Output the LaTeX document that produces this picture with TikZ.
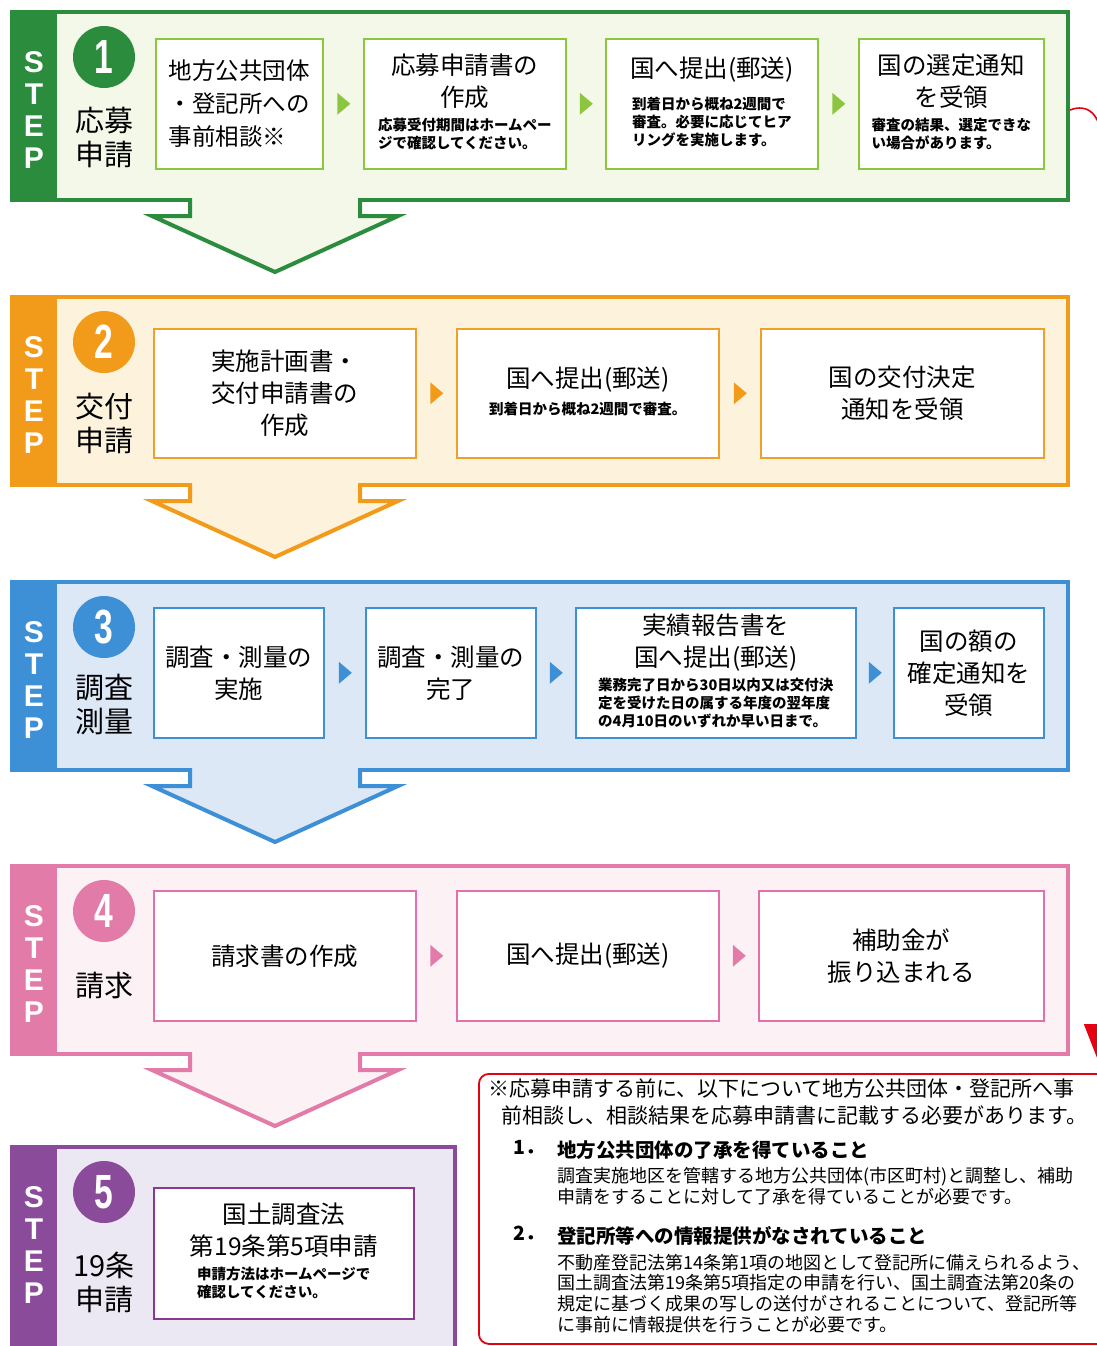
\documentclass[tikz,border=0pt]{standalone}
\usepackage{fontspec}
\setmainfont{Noto Sans CJK JP}
\newfontfamily\stepfamily{Liberation Sans}
\usepackage{graphicx}
\usepackage{tikz}
\usetikzlibrary{calc,arrows.meta}

\definecolor{gdark}{HTML}{2A8C3C}
\definecolor{glight}{HTML}{F3F8E8}
\definecolor{gline}{HTML}{8CC63F}
\definecolor{odark}{HTML}{F29B1A}
\definecolor{olight}{HTML}{FDF2DC}
\definecolor{oline}{HTML}{F0A02A}
\definecolor{bdark}{HTML}{3D8FD6}
\definecolor{blight}{HTML}{DCE8F6}
\definecolor{bline}{HTML}{3D8FD6}
\definecolor{pdark}{HTML}{E27BA8}
\definecolor{plight}{HTML}{FCF2F6}
\definecolor{pline}{HTML}{E46FAA}
\definecolor{vdark}{HTML}{8A4C9A}
\definecolor{vlight}{HTML}{ECE8F3}
\definecolor{vline}{HTML}{8A3A8E}
\definecolor{nred}{HTML}{E50012}

\newcommand{\boxfont}{\fontsize{24.5}{32}\selectfont}
\newcommand{\firstfont}{\fontsize{23.5}{33}\selectfont}
\newcommand{\notefont}{\bfseries\fontsize{14.5}{18}\selectfont}
\newcommand{\sidefont}{\fontsize{29}{34}\selectfont}
\newcommand{\numfont}{\stepfamily\bfseries\fontsize{48}{48}\selectfont}
\newcommand{\steplfont}{\stepfamily\bfseries\fontsize{30}{30}\selectfont}
\newcommand{\noteheadfont}{\fontsize{21}{27}\selectfont}
\newcommand{\itemfont}{\fontsize{18}{20.8}\selectfont}
\newcommand{\itemhead}{\bfseries\fontsize{19.5}{20.8}\selectfont}
\newcommand{\boxnote}[1]{{\notefont\begin{tabular}[t]{@{}l@{}}#1\end{tabular}}}

\begin{document}
\begin{tikzpicture}[x=1pt,y=-1pt,
	frame/.style={fill=#1light,draw=#1dark,line width=4pt},
	box/.style={draw=#1line,fill=white,line width=1.6pt,inner sep=0pt,align=center,font=\boxfont,anchor=north west},
	num/.style={circle,fill=#1dark,text=white,minimum size=62pt,inner sep=0pt,font=\numfont},
	side/.style={font=\sidefont,align=center,inner sep=0pt},
	stepl/.style={text=white,font=\steplfont,inner sep=0pt},
	downarrow/.style={draw=#1dark,line width=4pt,line join=miter},
	notebox/.style={draw=nred,fill=white,line width=1.8pt,rounded corners=10pt,anchor=north west,inner sep=0pt},
	notetext/.style={anchor=north west,inner sep=0pt,align=left},
	pics/nexttri/.style={code={\fill[#1] (-6,-11) -- (7,0) -- (-6,11) -- cycle;}},
]
	\fill[white] (0,0) rectangle (1097,1346);
	\useasboundingbox (0,0) rectangle (1097,1346);

	% step frames
	\foreach \t/\col/\b/\r [count=\k] in {12/g/200/1068,297/o/485/1068,582/b/770/1068,866/p/1054/1068,1147/v/1362/455}{
		\draw[frame=\col] (12,\t) rectangle (\r,\b);
		\fill[fill=\col dark] (10,\t-2) rectangle (57,\b+2);
		\foreach \ch [count=\i] in {S,T,E,P}
			\node[stepl] (step\k\ch) at (34,\t+18+32*\i) {\ch};
		\node[num=\col] (num\k) at (104,\t+45) {\scalebox{0.7}[1]{\k}};
	}

	% arrows down
	\foreach \b/\col in {200/g,485/o,770/b,1054/p}{
		\fill[fill=\col light] (190,\b-3) -- (190,\b+16) -- (152,\b+16) -- (275,\b+72) -- (398,\b+16) -- (360,\b+16) -- (360,\b-3) -- cycle;
		\draw[downarrow=\col] (190,\b-2) -- (190,\b+16) -- (152,\b+16) -- (275,\b+72) -- (398,\b+16) -- (360,\b+16) -- (360,\b-2);
	}

	\node[side] (lab1) at (104,137) {応募\\申請};
	\node[side] (lab2) at (104,423) {交付\\申請};
	\node[side] (lab3) at (104,705) {調査\\測量};
	\node[side] (lab4) at (104,985) {請求};
	\node[side] (lab5) at (104,1282) {19条\\申請};

	% step 1
	\node[box=g,minimum width=167pt,minimum height=130pt,align=left,font=\firstfont] (b11) at (155,38) {地方公共団体\\・登記所への\\事前相談※};
	\node[box=g,minimum width=202pt,minimum height=130pt] (b12) at (363,38) {応募申請書の\\作成\\[-8.5pt]\boxnote{応募受付期間はホームペー\\ジで確認してください。}};
	\node[box=g,minimum width=212pt,minimum height=130pt] (b13) at (605,38) {国へ提出(郵送)\\[0pt]\boxnote{到着日から概ね2週間で\\審査。必要に応じてヒア\\リングを実施します。}};
	\node[box=g,minimum width=185pt,minimum height=130pt] (b14) at (858,38) {国の選定通知\\を受領\\[-7.5pt]\boxnote{審査の結果、選定できな\\い場合があります。}};
	\pic at ($(b11.east)!.5!(b12.west)$) {nexttri=gline};
	\pic at ($(b12.east)!.5!(b13.west)$) {nexttri=gline};
	\pic at ($(b13.east)!.5!(b14.west)$) {nexttri=gline};

	% step 2
	\node[box=o,minimum width=262pt,minimum height=129pt] (b21) at (153,328) {実施計画書・\\交付申請書の\\作成};
	\node[box=o,minimum width=262pt,minimum height=129pt] (b22) at (456,328) {国へ提出(郵送)\\[-5pt]\boxnote{到着日から概ね2週間で審査。}};
	\node[box=o,minimum width=283pt,minimum height=129pt] (b23) at (760,328) {国の交付決定\\通知を受領};
	\pic at ($(b21.east)!.5!(b22.west)$) {nexttri=odark};
	\pic at ($(b22.east)!.5!(b23.west)$) {nexttri=odark};

	% step 3
	\node[box=b,minimum width=170pt,minimum height=130pt] (b31) at (153,607) {調査・測量の\\実施};
	\node[box=b,minimum width=170pt,minimum height=130pt] (b32) at (365,607) {調査・測量の\\完了};
	\node[box=b,minimum width=280pt,minimum height=130pt] (b33) at (575,607) {実績報告書を\\国へ提出(郵送)\\[-7.5pt]\boxnote{業務完了日から30日以内又は交付決\\定を受けた日の属する年度の翌年度\\の4月10日のいずれか早い日まで。}};
	\node[box=b,minimum width=150pt,minimum height=130pt] (b34) at (893,607) {国の額の\\確定通知を\\受領};
	\pic at ($(b31.east)!.5!(b32.west)$) {nexttri=bdark};
	\pic at ($(b32.east)!.5!(b33.west)$) {nexttri=bdark};
	\pic at ($(b33.east)!.5!(b34.west)$) {nexttri=bdark};

	% step 4
	\node[box=p,minimum width=262pt,minimum height=130pt] (b41) at (153,890) {請求書の作成};
	\node[box=p,minimum width=262pt,minimum height=130pt] (b42) at (456,890) {国へ提出(郵送)};
	\node[box=p,minimum width=285pt,minimum height=130pt] (b43) at (758,890) {補助金が\\振り込まれる};
	\pic at ($(b41.east)!.5!(b42.west)$) {nexttri=pdark};
	\pic at ($(b42.east)!.5!(b43.west)$) {nexttri=pdark};

	% step 5
	\node[box=v,minimum width=260pt,minimum height=131pt] (b51) at (153,1187) {国土調査法\\第19条第5項申請\\[-8pt]\boxnote{申請方法はホームページで\\確認してください。}};

	% note
	\node[notebox,minimum width=660pt,minimum height=270pt] (note) at (478,1073) {};
	\coordinate (r1) at (1070,110);
	\coordinate (tip) at (1101,1068);
	\draw[nred,line width=1.6pt,-{Triangle[width=34pt,length=44pt]}] (r1) .. controls (1088,103) and (1101,115) .. (1101,140) -- (tip);

	\node[notetext,font=\noteheadfont] (nhead) at (488,1079) {※応募申請する前に、以下について地方公共団体・登記所へ事\\\hspace*{13pt}前相談し、相談結果を応募申請書に記載する必要があります。};
	\node[notetext,font=\itemhead] (nnum1) at (513,1140) {1．};
	\node[notetext,font=\itemfont] (nitem1) at (557,1140) {\itemhead 地方公共団体の了承を得ていること\\[5pt]調査実施地区を管轄する地方公共団体(市区町村)と調整し、補助\\申請をすることに対して了承を得ていることが必要です。};
	\node[notetext,font=\itemhead] (nnum2) at (513,1226) {2．};
	\node[notetext,font=\itemfont] (nitem2) at (557,1226) {\itemhead 登記所等への情報提供がなされていること\\[5pt]不動産登記法第14条第1項の地図として登記所に備えられるよう、\\国土調査法第19条第5項指定の申請を行い、国土調査法第20条の\\規定に基づく成果の写しの送付がされることについて、登記所等\\に事前に情報提供を行うことが必要です。};
\end{tikzpicture}
\end{document}
